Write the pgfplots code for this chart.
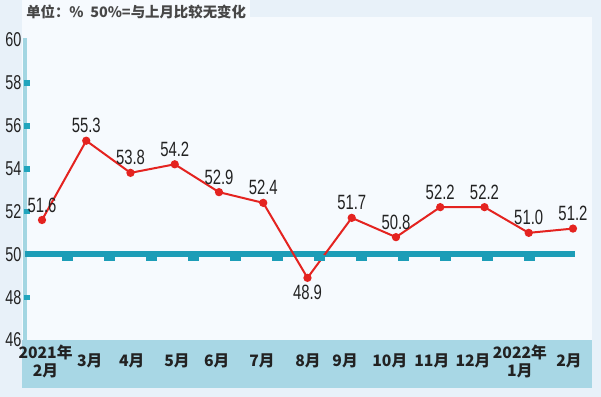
\documentclass[border=0pt]{standalone}
\usepackage{pgfplots}
\pgfplotsset{compat=1.18}
\usepackage{fontspec}
\setmainfont{Liberation Sans}
\newfontfamily\cjk{Noto Sans CJK SC}
\newfontfamily\narrow[FakeStretch=0.72]{Liberation Sans}
\definecolor{bgc}{HTML}{E8F1F9}
\definecolor{panel}{HTML}{F6FAFE}
\definecolor{band}{HTML}{A8D7E5}
\definecolor{teal50}{HTML}{1C9DB7}
\definecolor{axisl}{HTML}{A3D6E2}
\definecolor{tickc}{HTML}{22A5BD}
\definecolor{redl}{HTML}{E42320}
\definecolor{txt}{HTML}{222222}
\begin{document}
\begin{tikzpicture}
\useasboundingbox (0,0) rectangle (450.75pt,297.75pt);
\fill[bgc] (0,0) rectangle (450.75pt,297.75pt);
\fill[panel] (16.5pt,42.75pt) rectangle (444pt,285pt);
\fill[panel] (16.5pt,285pt) rectangle (187.5pt,297.75pt);
\fill[band] (16.5pt,6.75pt) rectangle (444pt,42.75pt);
\node[anchor=west, inner sep=0pt, text=black!72] at (19.5pt,288.5pt) {\cjk\bfseries\fontsize{10.8}{12}\selectfont 单位：\%\ \ 50\%=与上月比较无变化};
\begin{axis}[
  at={(18.75pt,42.75pt)}, anchor=south west,
  scale only axis, width=425.25pt, height=225pt,
  xmin=-0.384, xmax=12.43, ymin=46, ymax=60,
  axis line style={draw=none},
  tick style={draw=none},
  clip=false,
  /pgf/number format/assume math mode=true,
  ytick={46,48,...,60},
  yticklabel style={font=\narrow\fontsize{15}{16}\selectfont, text=txt, inner sep=0pt, xshift=-2.5pt},
  xtick={0.08,1.08,2.03,3.05,3.95,4.97,6.01,6.85,7.86,8.81,9.74,10.8,11.91},
  xticklabels={{2021年\\2月},3月,4月,5月,6月,7月,8月,9月,10月,11月,12月,{2022年\\1月},2月},
  xticklabel style={align=center, anchor=center, yshift=-16pt, text=txt,
    font=\cjk\bfseries\fontsize{11.8}{13.5}\selectfont},
]
\addplot[axisl, line width=3pt, forget plot] coordinates {(-0.39,46) (-0.39,60.1)};
\addplot[only marks, mark=square*, mark size=1.7pt, color=tickc] coordinates {(-0.34,48) (-0.34,52) (-0.34,54) (-0.34,56) (-0.34,58)};
\addplot[only marks, mark=square*, mark size=2.2pt, mark options={xscale=1.7, yscale=0.7}, color=teal50]
  coordinates {(0.565,49.84) (1.514,49.84) (2.463,49.84) (3.412,49.84) (4.361,49.84) (5.31,49.84) (6.259,49.84) (7.208,49.84) (8.157,49.84) (9.106,49.84) (10.055,49.84) (11.004,49.84)};
\addplot[teal50, line width=4.5pt] coordinates {(-0.39,50) (12.05,50)};
\addplot[redl, line width=1.5pt, mark=*, mark size=2.3pt,
  point meta=explicit symbolic,
  nodes near coords,
  nodes near coords style={anchor=south, inner sep=0pt, yshift=5pt, text=txt, font=\narrow\fontsize{15.5}{16}\selectfont}]
  coordinates {(0,51.6)[51.6] (1,55.3)[55.3] (2,53.8)[53.8] (3,54.2)[54.2] (4,52.9)[52.9] (5,52.4)[52.4] (6,48.9)[] (7,51.7)[51.7] (8,50.8)[50.8] (9,52.2)[52.2] (10,52.2)[52.2] (11,51.0)[51.0] (12,51.2)[51.2]};
\addplot[draw=none, mark=none, point meta=explicit symbolic, nodes near coords,
  nodes near coords style={anchor=north, inner sep=0pt, yshift=-5pt, text=txt, font=\narrow\fontsize{15.5}{16}\selectfont}]
  coordinates {(6,48.9)[48.9]};
\end{axis}
\end{tikzpicture}
\end{document}
